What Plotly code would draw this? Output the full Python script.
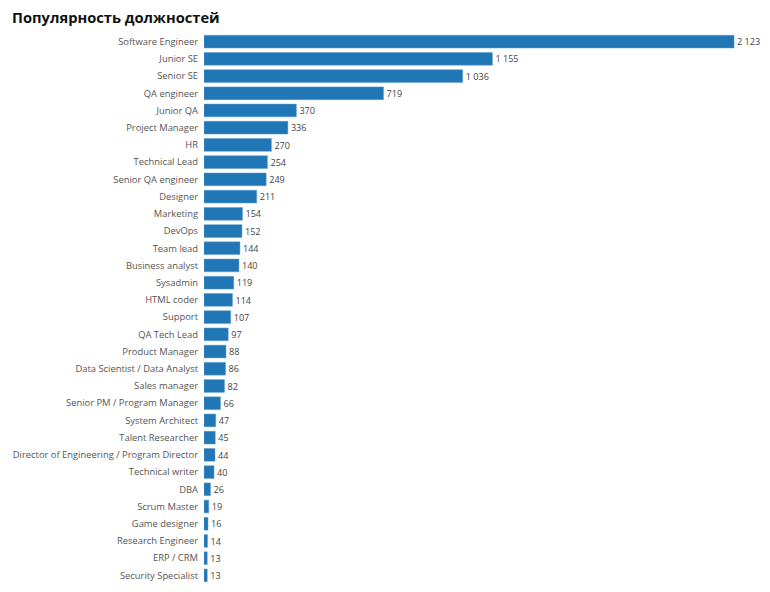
import plotly.graph_objects as go

categories = ["Software Engineer", "Junior SE", "Senior SE", "QA engineer", "Junior QA",
              "Project Manager", "HR", "Technical Lead", "Senior QA engineer", "Designer",
              "Marketing", "DevOps", "Team lead", "Business analyst", "Sysadmin",
              "HTML coder", "Support", "QA Tech Lead", "Product Manager",
              "Data Scientist / Data Analyst", "Sales manager", "Senior PM / Program Manager",
              "System Architect", "Talent Researcher", "Director of Engineering / Program Director",
              "Technical writer", "DBA", "Scrum Master", "Game designer", "Research Engineer",
              "ERP / CRM", "Security Specialist"]
values = [2123, 1155, 1036, 719, 370, 336, 270, 254, 249, 211, 154, 152, 144, 140, 119,
          114, 107, 97, 88, 86, 82, 66, 47, 45, 44, 40, 26, 19, 16, 14, 13, 13]

W, H = 762, 584  # page body has an 8px margin

fig = go.Figure(go.Bar(
    x=values, y=categories, orientation="h",
    marker=dict(color="#2176b5", line=dict(color="#5a9bd0", width=0.5)),
    texttemplate="%{x:,}", textposition="outside", cliponaxis=False,
    textfont=dict(size=10, color="#444444", family="Open Sans"),
    width=0.74,
))
fig.update_layout(
    width=W, height=H,
    separators=", ",
    paper_bgcolor="white", plot_bgcolor="white",
    margin=dict(l=196, r=2, t=24.5, b=7.5, autoexpand=False),
    title=dict(text="<b>Популярность должностей</b>", xref="container", x=4 / W, xanchor="left",
               yref="container", y=1 - 9.5 / H, yanchor="middle",
               font=dict(family="Open Sans", size=14.7, color="#111111")),
    xaxis=dict(range=[0, 2259], visible=False),
    yaxis=dict(autorange="reversed", showgrid=False, zeroline=False, showline=False,
               ticks="", ticklabelstandoff=5,
               tickfont=dict(family="Open Sans", size=9.4, color="#555555")),
    showlegend=False,
)
fig.write_html("out.html")
